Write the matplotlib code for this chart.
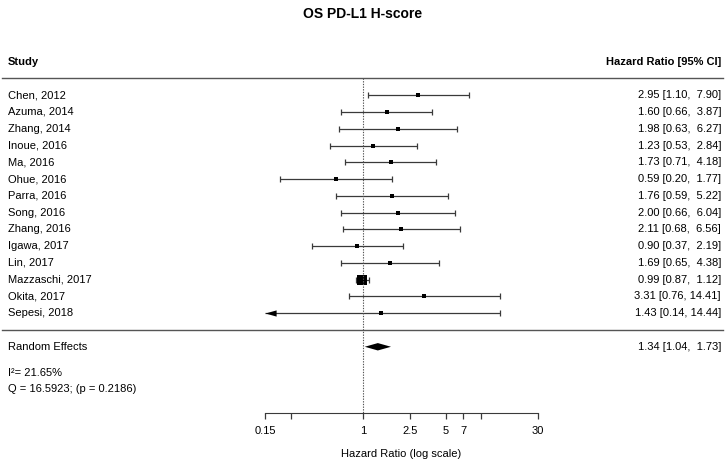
"""Forest plot: OS PD-L1 H-score (random effects meta-analysis)."""

import matplotlib

matplotlib.use("Agg")
import matplotlib.pyplot as plt
import numpy as np
from matplotlib.ticker import NullLocator

plt.rcParams["font.family"] = ["Liberation Sans", "DejaVu Sans"]

studies = [
    "Chen, 2012", "Azuma, 2014", "Zhang, 2014", "Inoue, 2016", "Ma, 2016",
    "Ohue, 2016", "Parra, 2016", "Song, 2016", "Zhang, 2016", "Igawa, 2017",
    "Lin, 2017", "Mazzaschi, 2017", "Okita, 2017", "Sepesi, 2018",
]
hr = [2.95, 1.60, 1.98, 1.23, 1.73, 0.59, 1.76, 2.00, 2.11, 0.90, 1.69, 0.99, 3.31, 1.43]
ci_lo = [1.10, 0.66, 0.63, 0.53, 0.71, 0.20, 0.59, 0.66, 0.68, 0.37, 0.65, 0.87, 0.76, 0.14]
ci_hi = [7.90, 3.87, 6.27, 2.84, 4.18, 1.77, 5.22, 6.04, 6.56, 2.19, 4.38, 1.12, 14.41, 14.44]

re_est, re_lo, re_hi = 1.34, 1.04, 1.73
i2_text = "I\u00b2= 21.65%"
q_text = "Q = 16.5923; (p = 0.2186)"

tick_vals = [0.15, 0.25, 1, 2.5, 5, 7, 10, 30]
tick_labels = ["0.15", "", "1", "2.5", "5", "7", "", "30"]
alim = (0.15, 30)

# --- layout (pixels of a 725x466 canvas) ---
W, H = 725, 466
px_per_dec = 273 / np.log10(alim[1] / alim[0])
x_one = 265 + np.log10(1 / alim[0]) * px_per_dec
row_px, row0_px = 16.77, 330

fig = plt.figure(figsize=(W / 100, H / 100), dpi=100)
ax = fig.add_axes([0, 0, 1, 1])
ax.set_xscale("log")
ax.set_xlim(10 ** (-x_one / px_per_dec), 10 ** ((W - x_one) / px_per_dec))
ax.set_ylim(-(H - row0_px) / row_px, row0_px / row_px)

k = len(studies)
rows = np.arange(k, 0, -1)
fs = 8
line_col = "#3a3a3a"

# weights for square sizes (DerSimonian-Laird random-effects weights)
se = (np.log(ci_hi) - np.log(ci_lo)) / (2 * 1.96)
vi = se ** 2
w_fe = 1 / vi
yi = np.log(hr)
q = np.sum(w_fe * (yi - np.sum(w_fe * yi) / w_fe.sum()) ** 2)
tau2 = max(0.0, (q - (k - 1)) / (w_fe.sum() - np.sum(w_fe ** 2) / w_fe.sum()))
w = 1 / (vi + tau2)
w = w / w.sum()
psize = 0.5 + (w - w.min()) / (w.max() - w.min())

arrow = [(0, 0), (1, 0.28), (1, -0.28), (0, 0)]

for r, est, lo, hi, ps in zip(rows, hr, ci_lo, ci_hi, psize):
    lo_d, hi_d = max(lo, alim[0]), min(hi, alim[1])
    ax.plot([lo_d, hi_d], [r, r], color=line_col, lw=0.9, solid_capstyle="butt")
    if lo >= alim[0]:
        ax.plot(lo, r, marker="|", ms=3.8, mew=0.9, color=line_col)
    else:
        ax.plot(lo_d, r, marker=arrow, ms=16, color="black", mew=0)
    if hi <= alim[1]:
        ax.plot(hi, r, marker="|", ms=3.8, mew=0.9, color=line_col)
    ax.plot(est, r, marker="s", ms=ps * 4.4, color="black", mew=0)

# summary diamond
ax.fill([re_lo, re_est, re_hi, re_est], [-1, -0.78, -1, -1.22], color="black", lw=0)

# reference line at HR = 1
ax.plot([1, 1], [15, -4.95], color="#555555", lw=0.8, ls=(0, (1.2, 1.2)))

# separators
ax.axhline(15, xmin=2 / W, xmax=723 / W, color="#555555", lw=1)
ax.axhline(0, xmin=2 / W, xmax=723 / W, color="#555555", lw=1)

tr = ax.get_yaxis_transform()
x_left, x_right = 8 / W, 721 / W
ax.text(x_left, 16, "Study", transform=tr, ha="left", va="center",
        fontsize=fs, fontweight="bold")
ax.text(x_right, 16, "Hazard Ratio [95% CI]", transform=tr, ha="right",
        va="center", fontsize=fs, fontweight="bold")
ax.text(0.5, 18.85, "OS PD-L1 H-score", transform=tr, ha="center",
        va="center", fontsize=10, fontweight="bold")

for r, name, est, lo, hi in zip(rows, studies, hr, ci_lo, ci_hi):
    ax.text(x_left, r, name, transform=tr, ha="left", va="center", fontsize=fs)
    ax.text(x_right, r, f"{est:.2f} [{lo:.2f}, {hi:5.2f}]", transform=tr,
            ha="right", va="center", fontsize=fs)

ax.text(x_left, -1, "Random Effects", transform=tr, ha="left", va="center", fontsize=fs)
ax.text(x_right, -1, f"{re_est:.2f} [{re_lo:.2f}, {re_hi:5.2f}]", transform=tr,
        ha="right", va="center", fontsize=fs)
ax.text(x_left, -2.56, i2_text, transform=tr, ha="left", va="center", fontsize=fs)
ax.text(x_left, -3.52, q_text, transform=tr, ha="left", va="center", fontsize=fs)

# x axis
for side in ("top", "right", "left"):
    ax.spines[side].set_visible(False)
ax.spines["bottom"].set_position(("data", -4.95))
ax.spines["bottom"].set_bounds(*alim)
ax.spines["bottom"].set_color(line_col)
ax.set_xticks(tick_vals, tick_labels)
ax.xaxis.set_minor_locator(NullLocator())
ax.tick_params(axis="x", length=4.2, width=0.9, color=line_col, pad=5, labelsize=fs)
ax.set_yticks([])
ax.text(np.sqrt(alim[0] * alim[1]), -7.4, "Hazard Ratio (log scale)",
        ha="center", va="center", fontsize=fs)

fig.savefig("out.png", dpi=100)
